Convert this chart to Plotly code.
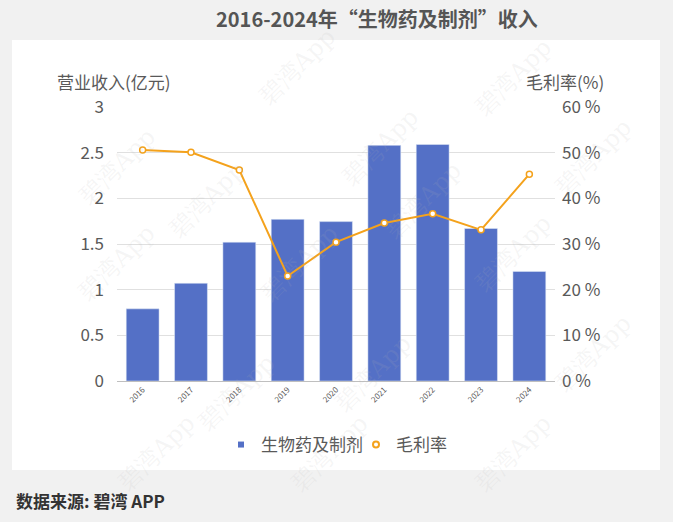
import plotly.graph_objects as go

years = ["2016", "2017", "2018", "2019", "2020", "2021", "2022", "2023", "2024"]
revenue = [0.79, 1.07, 1.52, 1.77, 1.745, 2.58, 2.59, 1.67, 1.20]
margin_pct = [50.6, 50.1, 46.2, 23.0, 30.4, 34.6, 36.6, 33.1, 45.3]
left_ticks = [0, 0.5, 1, 1.5, 2, 2.5, 3]
left_tick_text = ["0", "0.5", "1", "1.5", "2", "2.5", "3"]
right_ticks = [0, 10, 20, 30, 40, 50, 60]
right_tick_text = ["0 %", "10 %", "20 %", "30 %", "40 %", "50 %", "60 %"]

BAR = "#5470c6"
ORANGE = "#f4a21c"
GREY = "#595959"
FONT = "Noto Sans CJK SC"

W, H = 673, 522
L, R, T, B = 117, 118, 107, 141
pw, ph = W - L - R, H - T - B

def px_x(x):
    return (x - L) / pw

def px_y(y):
    return (H - B - y) / ph

fig = go.Figure()
fig.add_trace(go.Bar(x=years, y=revenue, marker_color=BAR, name="生物药及制剂",
                     showlegend=False, yaxis="y"))
fig.add_trace(go.Scatter(x=years, y=margin_pct, mode="lines+markers", yaxis="y2",
                         line=dict(color=ORANGE, width=2),
                         marker=dict(symbol="circle", size=6, color="white",
                                     line=dict(color=ORANGE, width=1.5)),
                         name="毛利率", showlegend=False))
# legend-only entries
fig.add_trace(go.Scatter(x=[None], y=[None], mode="markers", name="生物药及制剂",
                         marker=dict(symbol="square", size=6, color=BAR)))
fig.add_trace(go.Scatter(x=[None], y=[None], mode="markers", name="毛利率", yaxis="y2",
                         marker=dict(symbol="circle-open", size=6, color=ORANGE,
                                     line=dict(width=2))))

shapes = [dict(type="rect", xref="paper", yref="paper", layer="below",
               x0=px_x(12), x1=px_x(660), y0=px_y(470), y1=px_y(40),
               fillcolor="white", line=dict(width=0))]

annotations = [
    dict(text="<b>2016-2024年“生物药及制剂”收入</b>", xref="paper", yref="paper",
         x=px_x(377), y=px_y(18), showarrow=False, xanchor="center", yanchor="middle",
         font=dict(family=FONT, size=20, color="#555555")),
    dict(text="营业收入(亿元)", xref="paper", yref="paper", x=px_x(55), y=px_y(81),
         showarrow=False, xanchor="left", yanchor="middle",
         font=dict(family=FONT, size=17, color=GREY)),
    dict(text="毛利率(%)", xref="paper", yref="paper", x=px_x(606), y=px_y(81),
         showarrow=False, xanchor="right", yanchor="middle",
         font=dict(family=FONT, size=17, color=GREY)),
    dict(text="<b>数据来源: 碧湾 APP</b>", xref="paper", yref="paper", x=px_x(14), y=px_y(500),
         showarrow=False, xanchor="left", yanchor="middle",
         font=dict(family=FONT, size=17, color="#333333")),
]

# faint watermarks
wm_pos = [(70, 120), (250, 20), (380, 100), (560, 30), (160, 200), (470, 200), (640, 110),
          (70, 310), (300, 310), (560, 300), (190, 440), (420, 420), (640, 400),
          (110, 500), (330, 500), (560, 500)]
for (wx, wy) in wm_pos:
    annotations.append(dict(text="碧湾App", xref="paper", yref="paper", x=px_x(wx), y=px_y(wy),
                            showarrow=False, textangle=-45,
                            font=dict(family="DejaVu Serif", size=24,
                                      color="rgba(180,180,180,0.13)")))

fig.update_layout(
    width=W, height=H,
    margin=dict(l=L, r=R, t=T, b=B),
    paper_bgcolor="#f1f1f1",
    plot_bgcolor="white",
    bargap=0.32,
    font=dict(family=FONT, color=GREY),
    xaxis=dict(type="category", tickangle=-45, tickfont=dict(size=8, color=GREY),
               showline=True, linecolor="#bfbfbf", linewidth=1, ticks="", showgrid=False),
    yaxis=dict(range=[0, 3], tickvals=left_ticks, ticktext=left_tick_text,
               tickfont=dict(size=17, color=GREY), showgrid=True, gridcolor="#e0e0e0",
               zeroline=False, showline=False, ticks="", ticklabelstandoff=12),
    yaxis2=dict(range=[0, 60], tickvals=right_ticks, ticktext=right_tick_text,
                overlaying="y", side="right", showgrid=False, zeroline=False,
                showline=False, tickfont=dict(size=17, color=GREY), ticklabelstandoff=6),
    legend=dict(orientation="h", x=px_x(356), xanchor="center", y=px_y(445), yanchor="middle",
                font=dict(size=17, color=GREY), bgcolor="rgba(0,0,0,0)",
                itemwidth=30, tracegroupgap=0, entrywidth=90, entrywidthmode="pixels"),
    shapes=shapes,
    annotations=annotations,
)

fig.write_html("out.html", config={"displayModeBar": False},
               post_script="document.body.style.margin='0';document.body.style.background='#f1f1f1';")
